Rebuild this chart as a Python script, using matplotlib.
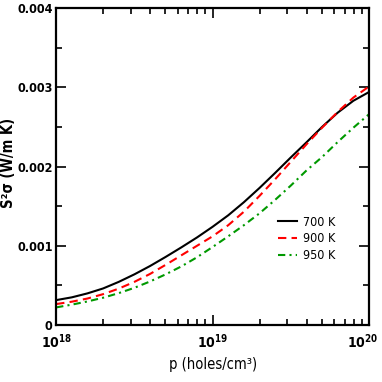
import numpy as np
import matplotlib
matplotlib.use("Agg")
import matplotlib.pyplot as plt
import matplotlib.transforms as mtransforms
from matplotlib.ticker import LogLocator, MultipleLocator, FixedLocator

plt.rcParams['font.family'] = ['DejaVu Sans']
plt.rcParams['font.stretch'] = 'condensed'
plt.rcParams['mathtext.fontset'] = 'custom'
plt.rcParams['mathtext.rm'] = 'DejaVu Sans:stretch=condensed'
plt.rcParams['mathtext.bf'] = 'DejaVu Sans:weight=bold:stretch=condensed'

# hole concentration, log10(p / cm^-3)
log_p = [18.0, 18.1, 18.2, 18.3, 18.4, 18.5, 18.6, 18.7, 18.8, 18.9, 19.0,
         19.1, 19.2, 19.3, 19.4, 19.5, 19.6, 19.7, 19.8, 19.9, 20.0]
p = [10 ** v for v in log_p]

# power factor S^2 sigma (W/m K)
pf_700 = [0.000315, 0.000350, 0.000400, 0.000462, 0.000545, 0.000640, 0.000745,
          0.000860, 0.000980, 0.001105, 0.001240, 0.001385, 0.001550, 0.001730,
          0.001920, 0.002115, 0.002305, 0.002500, 0.002680, 0.002830, 0.002940]
pf_900 = [0.000265, 0.000295, 0.000335, 0.000390, 0.000460, 0.000545, 0.000645,
          0.000760, 0.000880, 0.001000, 0.001120, 0.001260, 0.001430, 0.001630,
          0.001840, 0.002060, 0.002280, 0.002490, 0.002690, 0.002870, 0.003010]
pf_950 = [0.000223, 0.000258, 0.000298, 0.000345, 0.000403, 0.000470, 0.000550,
          0.000640, 0.000740, 0.000855, 0.000985, 0.001120, 0.001260, 0.001410,
          0.001580, 0.001760, 0.001950, 0.002120, 0.002310, 0.002490, 0.002660]

labels = ['700 K', '900 K', '950 K']
y_ticks = [0, 0.001, 0.002, 0.003, 0.004]
y_ticklabels = ['0', '0.001', '0.002', '0.003', '0.004']
x_ticks = [1e18, 1e19, 1e20]
x_ticklabels = [r'$\mathbf{10^{18}}$', r'$\mathbf{10^{19}}$', r'$\mathbf{10^{20}}$']

fig = plt.figure(figsize=(3.82, 3.82), dpi=100)
ax = fig.add_axes([0.147, 0.149, 0.819, 0.830])

ax.plot(p, pf_700, color='black', lw=1.5, label=labels[0])
ax.plot(p, pf_900, color='#ff0000', lw=1.5, dashes=(4, 2.5), label=labels[1])
ax.plot(p, pf_950, color='#009900', lw=1.5, dashes=(3.5, 2, 1, 2), label=labels[2])

ax.set_xscale('log')
ax.set_xlim(1e18, 1e20)
ax.set_ylim(0, 0.004)
ax.xaxis.set_major_locator(FixedLocator(x_ticks))
ax.set_xticklabels(x_ticklabels)
ax.xaxis.set_minor_locator(LogLocator(base=10, subs=np.arange(2, 10)))
ax.set_yticks(y_ticks)
ax.set_yticklabels(y_ticklabels)
ax.yaxis.set_minor_locator(MultipleLocator(0.0005))

ax.tick_params(which='both', direction='in', top=True, right=True, width=1.2)
ax.tick_params(which='major', length=7)
ax.tick_params(which='minor', length=4)
ax.tick_params(axis='y', labelsize=9, pad=2.5)
ax.tick_params(axis='x', labelsize=10, pad=5)
for lbl in ax.get_yticklabels():
    lbl.set_fontweight('bold')
for s in ax.spines.values():
    s.set_linewidth(1.6)

# keep the last exponent label inside the canvas
last = ax.get_xticklabels()[-1]
last.set_transform(last.get_transform() + mtransforms.ScaledTranslation(-6 / 100, 0, fig.dpi_scale_trans))

ax.set_xlabel('p (holes/cm³)', fontsize=10.5)
ax.xaxis.set_label_coords(0.5, -0.1)
ax.set_ylabel('S²σ (W/m K)', fontsize=10.5, fontweight='bold')
ax.yaxis.set_label_coords(-0.128, 0.51)

leg = ax.legend(loc='upper left', bbox_to_anchor=(0.709, 0.345), frameon=False, fontsize=9,
                borderpad=0, borderaxespad=0, handlelength=1.5, handletextpad=0.5,
                labelspacing=0.3)

fig.savefig('out.png', dpi=100)
